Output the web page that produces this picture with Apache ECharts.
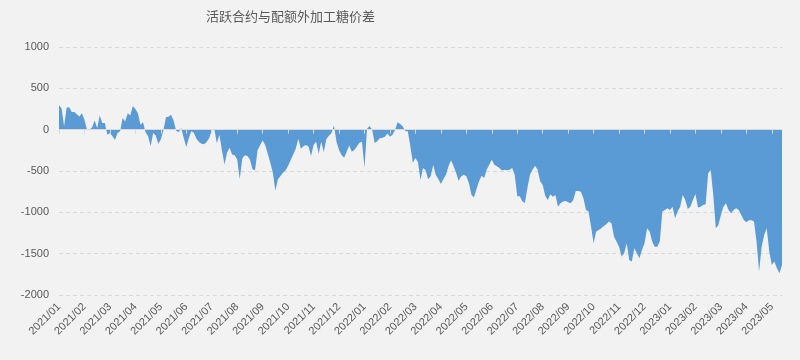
<!DOCTYPE html>
<html>
<head>
<meta charset="utf-8">
<script src="https://cdn.jsdelivr.net/npm/echarts@6.0.0/dist/echarts.min.js"></script>
<style>
html,body{margin:0;padding:0;background:#f2f2f2;}
#chart{width:800px;height:360px;}
</style>
</head>
<body>
<div id="chart"></div>
<script>
// Title
const chartTitle = '活跃合约与配额外加工糖价差';

// Month tick labels (x axis)
const monthLabels = [
  '2021/01','2021/02','2021/03','2021/04','2021/05','2021/06','2021/07','2021/08','2021/09','2021/10','2021/11','2021/12',
  '2022/01','2022/02','2022/03','2022/04','2022/05','2022/06','2022/07','2022/08','2022/09','2022/10','2022/11','2022/12',
  '2023/01','2023/02','2023/03','2023/04','2023/05'
];

// Samples per month (each sample ~ 3 calendar days)
const samplesPerMonth = 10;

// Y axis ticks
const yTicks = [-2000, -1500, -1000, -500, 0, 500, 1000];

// Spread values (活跃合约 - 配额外加工糖)
const spread = [
  295, 260, 40, 265, 270, 215, 215, 185, 160, 200,
  120, 0, 0, 30, 110, 20, 170, 80, 80, -60,
  -40, -80, -125, -40, -20, 140, 100, 200, 170, 285,
  250, 200, 60, 90, -30, -80, -200, -40, -70, -170,
  -120, -10, 150, 155, 180, 110, -10, -30, 20, -100,
  -210, -100, -15, -40, -110, -150, -170, -175, -150, -100,
  -10, 10, -165, -60, -250, -420, -280, -220, -300, -310,
  -360, -600, -350, -310, -320, -360, -480, -490, -250, -190,
  -130, -185, -290, -400, -520, -740, -600, -560, -520, -490,
  -435, -370, -300, -230, -110, -230, -200, -185, -205, -320,
  -185, -145, -290, -145, -270, -117, -73, -44, 50, -145,
  -245, -306, -340, -266, -193, -266, -245, -205, -157, -145,
  -460, 10, 45, 0, -160, -140, -105, -97, -85, -45,
  -85, -60, -5, 90, 70, 40, -15, -20, -200, -400,
  -343, -395, -610, -463, -490, -600, -565, -423, -548, -596,
  -657, -596, -544, -443, -371, -443, -524, -617, -564, -544,
  -564, -645, -786, -820, -717, -625, -556, -584, -484, -423,
  -363, -423, -443, -463, -495, -484, -490, -484, -463, -544,
  -806, -806, -866, -887, -705, -544, -484, -435, -484, -625,
  -669, -800, -850, -782, -810, -790, -931, -890, -870, -862,
  -878, -890, -850, -741, -741, -750, -830, -971, -991, -1173,
  -1374, -1233, -1213, -1193, -1165, -1144, -1112, -1132, -1294, -1354,
  -1415, -1535, -1495, -1374, -1576, -1596, -1435, -1495, -1556, -1455,
  -1374, -1193, -1233, -1354, -1415, -1415, -1354, -991, -971, -951,
  -971, -931, -1072, -991, -931, -790, -850, -959, -931, -850,
  -778, -943, -931, -911, -903, -528, -488, -790, -1193, -1153,
  -1032, -931, -890, -971, -1012, -971, -951, -971, -1032, -1092,
  -1120, -1096, -1096, -1112, -1354, -1717, -1415, -1273, -1193, -1475,
  -1636, -1596, -1676, -1737, -1636
];

// Category for each sample: "<month label>#<sample index within month>"
const categories = spread.map((_, i) =>
  monthLabels[Math.floor(i / samplesPerMonth)] + '#' + (i % samplesPerMonth));

const textColor = '#595959';
const gridColor = '#d9d9d9';
const fillColor = '#5b9bd5';

const chart = echarts.init(document.getElementById('chart'), null, {renderer: 'canvas'});
chart.setOption({
  backgroundColor: '#f2f2f2',
  animation: false,
  title: {
    text: chartTitle,
    left: 201,
    top: 5,
    textStyle: {
      color: textColor,
      fontSize: 13,
      fontWeight: 'normal',
      fontFamily: '"Noto Sans CJK SC", sans-serif'
    }
  },
  grid: {left: 59, right: 18, top: 47, bottom: 65},
  xAxis: [
    {
      type: 'category',
      data: categories,
      boundaryGap: false,
      position: 'bottom',
      axisLine: {show: false, onZero: false},
      axisTick: {show: false},
      splitLine: {show: false},
      axisLabel: {
        interval: samplesPerMonth - 1,
        rotate: 45,
        margin: 10,
        color: textColor,
        fontSize: 11,
        fontFamily: '"Liberation Sans", Arial, sans-serif',
        formatter: v => v.split('#')[0]
      }
    },
    {
      type: 'category',
      data: categories,
      boundaryGap: false,
      position: 'top',
      z: 5,
      axisLine: {show: true, onZero: true, lineStyle: {color: gridColor, width: 1}},
      axisTick: {show: true, inside: true, length: 4, interval: samplesPerMonth - 1,
                 lineStyle: {color: gridColor, width: 1}},
      axisLabel: {show: false},
      splitLine: {show: false}
    }
  ],
  yAxis: {
    type: 'value',
    min: yTicks[0],
    max: yTicks[yTicks.length - 1],
    interval: 500,
    axisLine: {show: false},
    axisTick: {show: false},
    axisLabel: {
      color: textColor,
      fontSize: 11,
      margin: 10,
      fontFamily: '"Liberation Sans", Arial, sans-serif',
      formatter: v => String(v)
    },
    splitLine: {show: true, lineStyle: {color: gridColor, type: [4, 3], width: 1}}
  },
  series: [{
    type: 'line',
    xAxisIndex: 0,
    yAxisIndex: 0,
    data: spread,
    showSymbol: false,
    symbol: 'none',
    lineStyle: {width: 0, color: fillColor},
    areaStyle: {color: fillColor, opacity: 1},
    z: 2
  }]
});
</script>
</body>
</html>
